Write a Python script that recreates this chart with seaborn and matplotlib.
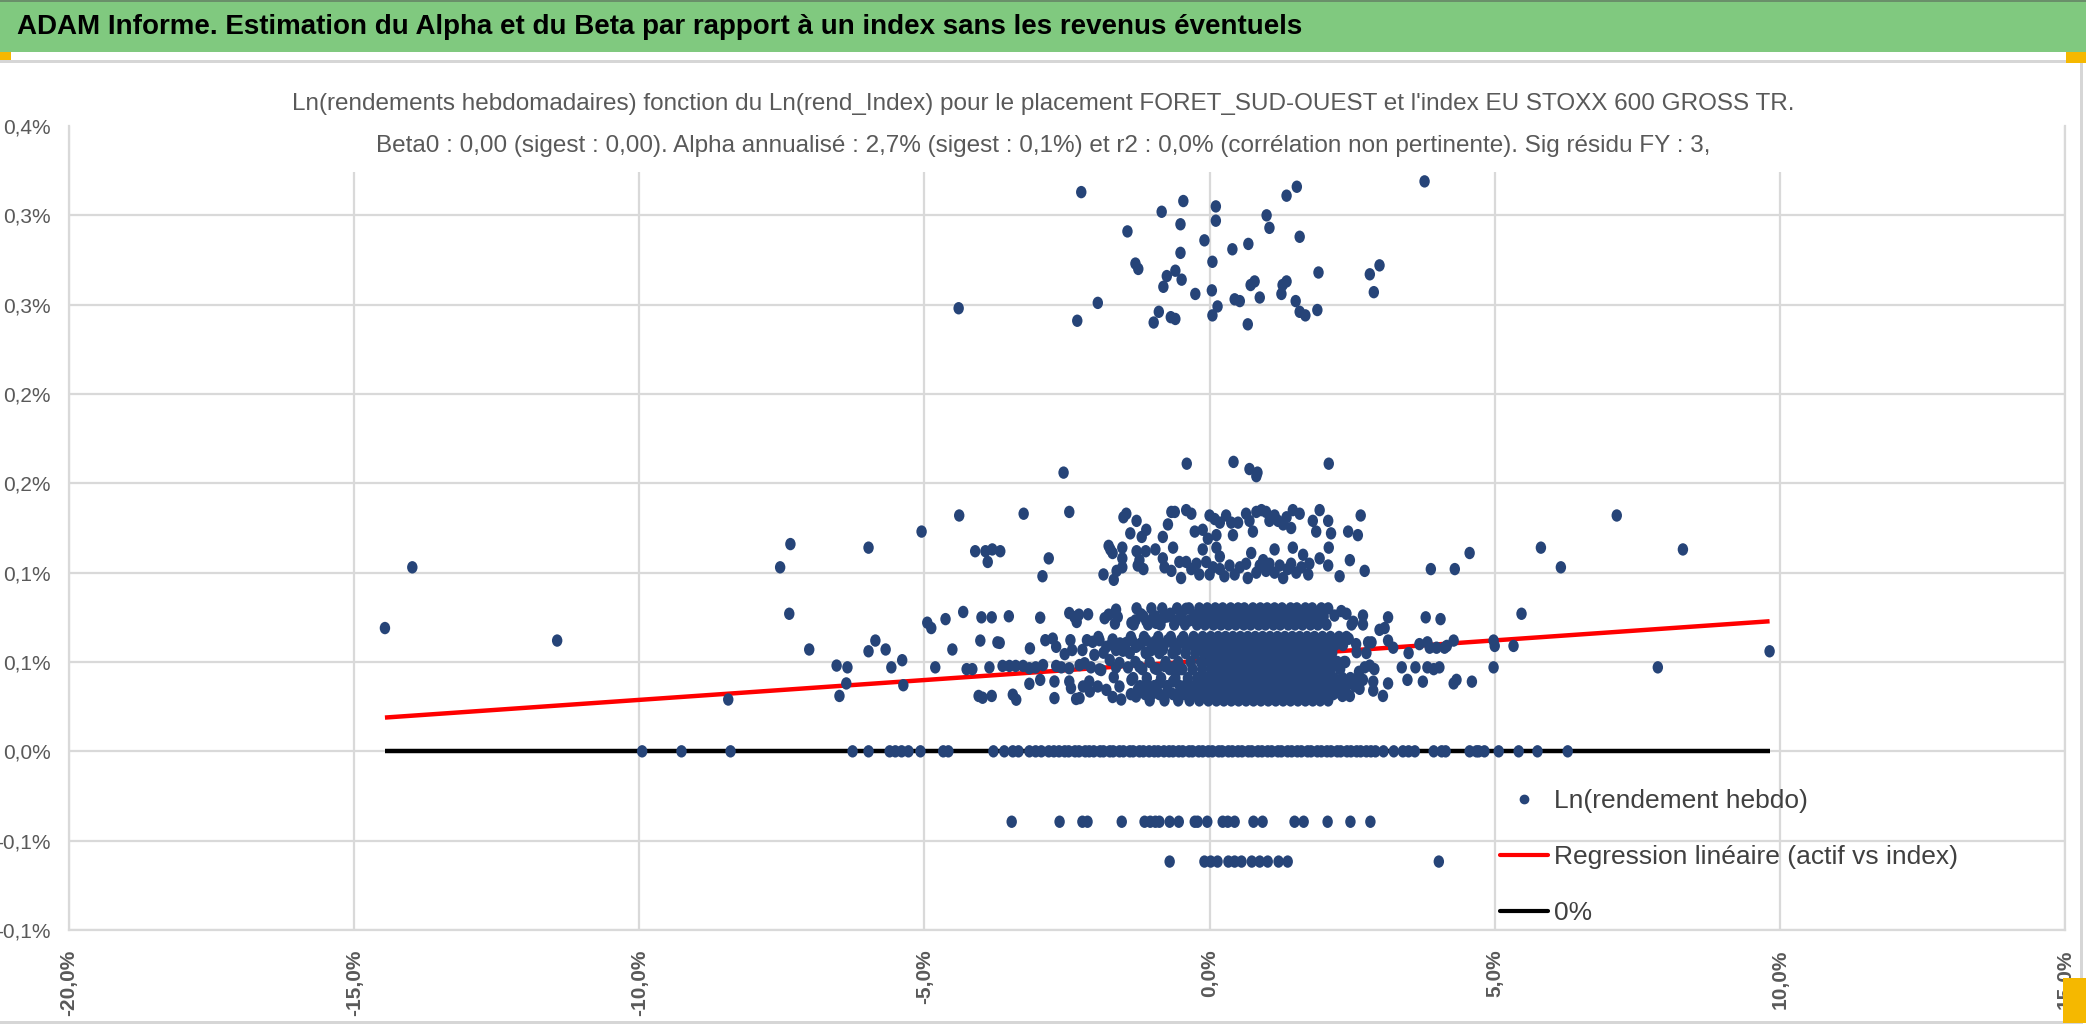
import numpy as np
import pandas as pd
import matplotlib
matplotlib.use("Agg")
import matplotlib.pyplot as plt
import seaborn as sns
from matplotlib.markers import MarkerStyle
from matplotlib.transforms import Affine2D
from matplotlib.patches import Rectangle
from matplotlib.lines import Line2D

# ---- data (x = Ln(rend_Index) in %, y = Ln(rendement hebdo) in %) ----

# top cluster (0.24% - 0.32%)
top_x = [-2.25, -0.46, -0.84, 0.11, 0.11, -0.51, -1.44, -0.09, 0.40, 0.68, -0.51, 0.05, -1.30, -1.25,
         -0.60, -0.75, -0.49, -0.81, -0.25, 0.04, 0.14, 0.05, 0.44, 0.53, 0.88, 0.72, 0.79, 1.28, 1.35,
         1.26, 1.51, 1.58, 1.68, 1.89, 1.91, 0.67, -0.89, -0.98, -0.68, -0.60, -1.96, -2.32, 1.00, 1.05,
         1.35, 1.53, 1.58, 2.81, 2.98, 2.88, 3.77, -4.40]
top_y = [0.313, 0.308, 0.302, 0.305, 0.297, 0.295, 0.291, 0.286, 0.281, 0.284, 0.279, 0.274, 0.273, 0.270,
         0.269, 0.266, 0.264, 0.260, 0.256, 0.258, 0.249, 0.244, 0.253, 0.252, 0.254, 0.261, 0.263, 0.261, 0.263,
         0.256, 0.252, 0.246, 0.244, 0.247, 0.268, 0.239, 0.246, 0.240, 0.243, 0.242, 0.251, 0.241, 0.300, 0.293,
         0.311, 0.316, 0.288, 0.267, 0.272, 0.257, 0.319, 0.248]

# upper band (0.095% - 0.165%)
up_x = [-2.56, -4.39, -3.26, -2.46, -5.05, -7.35, -7.53, -5.98, -4.11, -3.93, -3.81, -3.67, -3.89, -2.82,
        -2.93, -1.86, -1.68, -1.63, -1.51, -1.46, -1.28, -1.39, -1.19, -1.11, -1.77, -1.74, -1.70, -1.53,
        -1.53, -1.53, -1.28, -1.12, -1.23, -1.26, -1.16, -13.98,
        -0.40, 0.42, 0.70, 0.84, 0.82, 2.09,
        -0.82, -0.73, -0.67, -0.61, -0.41, -0.32, -0.26, -0.12, -0.03, 0.00, 0.09, 0.12, 0.18, 0.29, 0.38,
        0.41, 0.50, 0.64, 0.70, 0.76, 0.82, 0.91, 0.99, 1.05, 1.14, 1.20, 1.29, 1.35, 1.43, 1.46, 1.58,
        1.81, 1.87, 1.93, 2.08, 2.13, 2.43, 2.60, 2.65,
        -0.95, -0.64, -0.12, 0.12, 0.18, 0.73, 1.14, 1.46, 1.64, 2.09, 1.93, 2.46, 2.08, 2.28, 2.72,
        -0.82, -0.79, -0.67, -0.53, -0.50, -0.41, -0.32, -0.23, -0.18, -0.06, 0.00, 0.06, 0.18, 0.26,
        0.35, 0.44, 0.53, 0.64, 0.67, 0.82, 0.88, 0.94, 0.99, 1.05, 1.14, 1.23, 1.29, 1.37, 1.43, 1.52,
        1.61, 1.73, 1.75,
        3.88, 4.30, 4.56, 5.81, 6.16, 7.14, 8.30]
up_y = [0.156, 0.132, 0.133, 0.134, 0.123, 0.116, 0.103, 0.114, 0.112, 0.112, 0.113, 0.112, 0.106, 0.108,
        0.098, 0.099, 0.096, 0.101, 0.131, 0.133, 0.129, 0.122, 0.120, 0.124, 0.115, 0.113, 0.111, 0.114,
        0.108, 0.103, 0.112, 0.112, 0.107, 0.104, 0.102, 0.103,
        0.161, 0.162, 0.158, 0.156, 0.154, 0.161,
        0.120, 0.127, 0.134, 0.134, 0.135, 0.133, 0.123, 0.124, 0.119, 0.132, 0.130, 0.121, 0.128, 0.132, 0.128,
        0.121, 0.128, 0.133, 0.129, 0.123, 0.134, 0.135, 0.134, 0.129, 0.132, 0.129, 0.127, 0.131, 0.125, 0.135, 0.133,
        0.129, 0.123, 0.135, 0.129, 0.122, 0.123, 0.121, 0.132,
        0.113, 0.114, 0.113, 0.114, 0.109, 0.111, 0.113, 0.114, 0.110, 0.114, 0.108, 0.107, 0.104, 0.098, 0.101,
        0.108, 0.103, 0.101, 0.106, 0.097, 0.106, 0.102, 0.105, 0.099, 0.106, 0.099, 0.103, 0.102, 0.098,
        0.104, 0.099, 0.103, 0.105, 0.097, 0.100, 0.104, 0.107, 0.101, 0.105, 0.100, 0.104, 0.097, 0.102, 0.105, 0.100,
        0.103, 0.099, 0.105,
        0.102, 0.102, 0.111, 0.114, 0.103, 0.132, 0.113]

# core points away from the dense block (0.026% - 0.08%)
core_x = [-14.46, -11.44, -8.44, -7.37, -7.02, -6.54, -6.35, -6.37, -6.49, -5.98, -5.86, -5.68, -5.58,
          -5.39, -5.37, -4.95, -4.88, -4.81, -4.63, -4.51, -4.32, -4.26, -4.16, -4.00, -3.82, -4.02, -3.86,
          -4.05, -3.98, -3.82, -3.72,
          -3.52, -2.97, -2.46, -2.37, -2.29, -2.33, -2.13, -1.77, -1.64, -1.61, -1.37, -1.30, -1.20, -1.11,
          -0.99, -0.94, -0.79, -0.69, -0.58, -0.50, -0.41, -0.35, -0.26, -0.20,
          -3.68, -3.15, -2.88, -2.75, -2.69, -2.54, -2.44, -2.41, -2.23, -2.15, -2.05, -1.93, -1.86, -1.81,
          -1.70, -1.64, -1.57, -1.46, -1.52, -1.36, -1.29, -1.20, -1.11, -1.02, -0.96, -0.89, -0.82, -0.73,
          -0.64, -0.58, -0.50, -0.41, -0.32, -0.23,
          -3.63, -3.51, -3.40, -3.27, -3.16, -3.05, -2.92, -2.69, -2.60, -2.46, -2.28, -2.19, -2.08, -1.93,
          -1.75, -1.64, -1.43, -1.23, -0.96, -0.79, -0.64, -0.53,
          -3.45, -3.39, -3.16, -2.97, -2.72, -2.46, -2.43, -2.22, -2.11, -1.96, -1.81, -1.70, -1.58, -1.37,
          -1.26, -1.29, -1.11, -0.99, -0.88, -0.73, -0.64, -0.53, -0.41, -0.29, -0.20, -2.72, -2.34, -2.28,
          2.69, 2.69, 2.98, 3.07, 3.13, 2.78, 3.13, 3.22, 3.68, 2.75, 2.72, 2.89, 2.66, 2.87, 3.13, 2.87,
          3.04, 2.46, 2.63, 2.19, 2.40, 2.49, 2.57, 2.84, 2.81, 2.57, 2.69,
          3.79, 4.05, 5.47, 9.82, 7.86, 4.98, 5.00, 5.33, 4.98, 4.28, 3.82, 3.86, 3.98, 4.12, 4.16, 3.49,
          3.37, 3.61, 3.82, 3.93, 4.03, 3.47, 3.74, 4.28, 4.33, 4.60,
          -1.84, -1.66, -1.95, -1.72, -2.02, -1.58, -1.90, -1.68, -2.10, -1.55, 2.31, 2.52, 2.44, 2.58,
          2.36, 2.62, 2.55, 2.33]
core_y = [0.069, 0.062, 0.029, 0.077, 0.057, 0.048, 0.047, 0.038, 0.031, 0.056, 0.062, 0.057, 0.047,
          0.051, 0.037, 0.072, 0.069, 0.047, 0.074, 0.057, 0.078, 0.046, 0.046, 0.075, 0.075, 0.062, 0.047,
          0.031, 0.030, 0.031, 0.061,
          0.0756, 0.0748, 0.0774, 0.0752, 0.0765, 0.0724, 0.0767, 0.0765, 0.0793, 0.0752, 0.0719, 0.0733,
          0.0767, 0.0730, 0.0748, 0.0719, 0.0752, 0.0770, 0.0733, 0.0752, 0.0798, 0.0733, 0.0761, 0.0724,
          0.0607, 0.0576, 0.0622, 0.0631, 0.0585, 0.0544, 0.0622, 0.0567, 0.0567, 0.0622, 0.0613, 0.0622,
          0.0552, 0.0585, 0.0626, 0.0567, 0.0604, 0.0607, 0.0563, 0.0622, 0.0585, 0.0604, 0.0622, 0.0567,
          0.0613, 0.0594, 0.0570, 0.0622, 0.0604, 0.0567, 0.0622, 0.0585, 0.0613, 0.0567,
          0.0478, 0.0478, 0.0478, 0.0478, 0.0465, 0.0470, 0.0483, 0.0478, 0.0470, 0.0465, 0.0483, 0.0493,
          0.0470, 0.0459, 0.0511, 0.0470, 0.0470, 0.0474, 0.0465, 0.0478, 0.0470, 0.0459,
          0.0317, 0.0289, 0.0378, 0.0400, 0.0391, 0.0391, 0.0354, 0.0363, 0.0391, 0.0363, 0.0344, 0.0304,
          0.0363, 0.0400, 0.0344, 0.0307, 0.0372, 0.0326, 0.0381, 0.0335, 0.0391, 0.0317, 0.0372, 0.0326,
          0.0381, 0.0298, 0.0293, 0.0298,
          0.076, 0.071, 0.068, 0.069, 0.075, 0.061, 0.062, 0.058, 0.060, 0.055, 0.047, 0.046, 0.040, 0.039,
          0.038, 0.034, 0.031, 0.031, 0.035, 0.076, 0.077, 0.071, 0.060, 0.061, 0.048, 0.040, 0.040,
          0.075, 0.074, 0.077, 0.056, 0.047, 0.062, 0.059, 0.059, 0.047, 0.062, 0.061, 0.058, 0.058, 0.058,
          0.059, 0.055, 0.047, 0.047, 0.047, 0.046, 0.047, 0.040, 0.039, 0.038, 0.040, 0.039,
          0.0745, 0.0715, 0.0640, 0.0600, 0.0540, 0.0495, 0.0455, 0.0415, 0.0335, 0.0290, 0.0785, 0.0725,
          0.0630, 0.0555, 0.0500, 0.0445, 0.0365, 0.0310]

# dense block, read row by row (y level of the row, x positions in the row)
row_levels = [0.080, 0.0755, 0.071, 0.064, 0.0595, 0.055, 0.050, 0.046, 0.041, 0.0365, 0.032, 0.0285]
row_xs = [
    [-1.28, -1.02, -0.83, -0.57, -0.36, -0.18, -0.04, 0.10, 0.23, 0.37, 0.50, 0.61, 0.76, 0.89, 1.01,
     1.14, 1.27, 1.42, 1.53, 1.68, 1.80, 1.96, 2.08],
    [-1.16, -0.95, -0.74, -0.49, -0.27, -0.10, 0.04, 0.17, 0.30, 0.43, 0.56, 0.69, 0.82, 0.95, 1.08,
     1.20, 1.34, 1.47, 1.60, 1.74, 1.87, 2.00],
    [-1.33, -1.08, -0.86, -0.62, -0.43, -0.22, -0.08, 0.07, 0.20, 0.33, 0.46, 0.60, 0.72, 0.86, 0.98,
     1.12, 1.24, 1.38, 1.50, 1.63, 1.77, 1.90, 2.05],
    [-1.38, -1.15, -0.90, -0.68, -0.46, -0.28, -0.12, 0.02, 0.15, 0.28, 0.41, 0.54, 0.67, 0.80, 0.93,
     1.06, 1.19, 1.32, 1.45, 1.58, 1.71, 1.84, 1.98, 2.12, 2.27, 2.40],
    [-1.25, -1.02, -0.80, -0.58, -0.37, -0.20, -0.05, 0.09, 0.22, 0.35, 0.48, 0.60, 0.74, 0.87, 1.00,
     1.12, 1.26, 1.39, 1.51, 1.65, 1.78, 1.92, 2.05, 2.20, 2.34],
    [-1.40, -1.12, -0.88, -0.65, -0.42, -0.25, -0.09, 0.05, 0.18, 0.31, 0.44, 0.57, 0.70, 0.83, 0.96,
     1.09, 1.22, 1.35, 1.48, 1.61, 1.74, 1.88, 2.01, 2.15],
    [-1.30, -1.05, -0.77, -0.55, -0.33, -0.15, 0.00, 0.13, 0.26, 0.39, 0.52, 0.65, 0.78, 0.91, 1.04,
     1.17, 1.30, 1.43, 1.56, 1.69, 1.82, 1.95, 2.09, 2.24, 2.38],
    [-1.18, -0.92, -0.70, -0.48, -0.30, -0.13, 0.03, 0.16, 0.29, 0.42, 0.55, 0.68, 0.81, 0.94, 1.07,
     1.20, 1.33, 1.46, 1.59, 1.72, 1.85, 1.99, 2.13, 2.29],
    [-1.34, -1.10, -0.85, -0.60, -0.38, -0.21, -0.06, 0.08, 0.21, 0.34, 0.47, 0.60, 0.73, 0.86, 0.99,
     1.12, 1.25, 1.38, 1.51, 1.64, 1.77, 1.90, 2.04, 2.18, 2.33, 2.47],
    [-1.22, -0.97, -0.74, -0.52, -0.32, -0.16, 0.00, 0.14, 0.27, 0.40, 0.53, 0.66, 0.79, 0.92, 1.05,
     1.18, 1.31, 1.44, 1.57, 1.70, 1.83, 1.97, 2.11, 2.26, 2.40],
    [-1.38, -1.13, -0.88, -0.64, -0.44, -0.26, -0.10, 0.05, 0.19, 0.32, 0.45, 0.58, 0.71, 0.84, 0.97,
     1.10, 1.23, 1.36, 1.49, 1.62, 1.75, 1.89, 2.03, 2.17, 2.31],
    [-1.05, -0.79, -0.55, -0.35, -0.18, -0.02, 0.12, 0.25, 0.38, 0.51, 0.64, 0.77, 0.90, 1.03, 1.16,
     1.29, 1.42, 1.55, 1.68, 1.81, 1.94, 2.08],
]

# weeks with zero return
zero_x = [-9.95, -9.26, -8.40, -6.26, -5.98, -5.61, -5.51, -5.40, -5.28, -5.07, -4.67, -4.58, -3.79,
          -3.60, -3.45, -3.35, -3.16, -3.05, -2.95, -2.82, -2.73, -2.64, -2.54, -2.47, -2.36, -2.29, -2.18,
          -2.11, -2.03, -1.92, -1.86, -1.75, -1.69, -1.58, -1.51, -1.40, -1.34, -1.23, -1.16, -1.06, -0.97,
          -0.90, -0.80, -0.71, -0.64, -0.54, -0.47, -0.36, -0.30, -0.19, -0.12, -0.02, 0.05, 0.16, 0.22,
          0.33, 0.40, 0.50, 0.57, 0.68, 0.74, 0.85, 0.92, 1.02, 1.09, 1.20, 1.26, 1.37, 1.44, 1.54, 1.61,
          1.72, 1.78, 1.89, 1.96, 2.06, 2.13, 2.24, 2.30, 2.41, 2.48, 2.58, 2.65, 2.75, 2.83, 2.91,
          3.05, 3.23, 3.39, 3.49, 3.60, 3.93, 4.07, 4.14, 4.56, 4.68, 4.72, 4.82, 5.07, 5.42, 5.75, 6.28]

# negative weeks
neg1_x = [-3.47, -2.63, -2.23, -2.14, -1.54, -1.14, -1.04, -0.95, -0.88, -0.70, -0.54, -0.26, -0.21,
          -0.04, 0.23, 0.32, 0.44, 0.77, 0.93, 1.49, 1.65, 2.07, 2.47, 2.82]
neg1_y = -0.0394
neg2_x = [-0.70, -0.09, 0.02, 0.14, 0.33, 0.44, 0.56, 0.74, 0.88, 1.02, 1.21, 1.37, 4.02]
neg2_y = -0.0617

# regression line (beta, weekly alpha) and the span of the two lines
beta = 0.00222
alpha_w = 0.051
line_x = [-14.46, 9.82]

x_ticks = [-20, -15, -10, -5, 0, 5, 10, 15]
x_tick_labels = ['-20,0%', '-15,0%', '-10,0%', '-5,0%', '0,0%', '5,0%', '10,0%', '15,0%']
y_ticks = [-0.1, -0.05, 0.0, 0.05, 0.1, 0.15, 0.2, 0.25, 0.3, 0.35]
y_tick_labels = ['-0,1%', '-0,1%', '0,0%', '0,1%', '0,1%', '0,2%', '0,2%', '0,3%', '0,3%', '0,4%']

title = "ADAM Informe. Estimation du Alpha et du Beta par rapport à un index sans les revenus éventuels"
sub1 = ("Ln(rendements hebdomadaires) fonction du Ln(rend_Index) pour le placement FORET_SUD-OUEST "
        "et l'index EU STOXX 600 GROSS TR.")
sub2 = ("Beta0 : 0,00 (sigest : 0,00). Alpha annualisé : 2,7% (sigest : 0,1%) et r2 : 0,0% "
        "(corrélation non pertinente). Sig résidu FY : 3,")

# ---- build the point table ----
dense_x = [x for xs in row_xs for x in xs]
dense_y = [lv for lv, xs in zip(row_levels, row_xs) for _ in xs]
pts = pd.DataFrame({
    'index': top_x + up_x + core_x + dense_x + zero_x + neg1_x + neg2_x,
    'actif': top_y + up_y + core_y + dense_y + [0.0] * len(zero_x)
             + [neg1_y] * len(neg1_x) + [neg2_y] * len(neg2_x),
})

sns.set_theme(style="white")
plt.rcParams['font.family'] = ['Liberation Sans', 'DejaVu Sans']

W, H = 2086, 1035
fig = plt.figure(figsize=(W / 100, H / 100), dpi=100)
ax = fig.add_axes([69 / W, 1 - 930 / H, (2065 - 69) / W, (930 - 126) / H])

navy = '#264478'
grid_c = '#d9d9d9'

reg_y = alpha_w + beta * np.array(line_x)
ax.plot(line_x, reg_y, color='#ff0000', lw=3.2, zorder=2, solid_capstyle='butt')
ax.plot(line_x, [0, 0], color='black', lw=3.2, zorder=2, solid_capstyle='butt')

ell = MarkerStyle('o', transform=Affine2D().scale(0.84, 1.0))
sns.scatterplot(data=pts, x='index', y='actif', ax=ax, color=navy, s=80, marker=ell,
                linewidth=0, edgecolor='none', zorder=3, legend=False)

ax.set_xlim(-20, 15)
ax.set_ylim(-0.1, 0.35)
ax.set_xticks(x_ticks)
ax.set_xticklabels(x_tick_labels, rotation=90, fontsize=15, fontweight='bold', color='#595959')
ax.set_yticks(y_ticks)
ax.set_yticklabels(y_tick_labels, fontsize=15, color='#595959')
ax.tick_params(axis='x', length=0, pad=14)
ax.tick_params(axis='y', length=0, pad=13)
ax.set_xlabel('')
ax.set_ylabel('')
ax.grid(True, color=grid_c, lw=1.6)
ax.set_axisbelow(True)
ax.yaxis.get_gridlines()[-1].set_visible(False)
for name, sp in ax.spines.items():
    sp.set_color(grid_c)
    sp.set_linewidth(1.6)
ax.spines['top'].set_visible(False)

handles = [
    Line2D([], [], ls='none', marker='o', markersize=6, color=navy),
    Line2D([], [], color='#ff0000', lw=3),
    Line2D([], [], color='black', lw=3),
]
labels = ['Ln(rendement hebdo)', 'Regression linéaire (actif vs index)', '0%']
ax.legend(handles, labels, loc='upper left', bbox_to_anchor=(1500 / W, 1 - 789 / H),
          bbox_transform=fig.transFigure, frameon=False, fontsize=19, labelcolor='#404040',
          handlelength=1.8, handletextpad=0.25, labelspacing=1.22, borderpad=0, borderaxespad=0)

# header band and chart frame
fig.add_artist(Rectangle((0, 1 - 52 / H), 1, 52 / H, transform=fig.transFigure,
                         facecolor='#80c97f', edgecolor='none', zorder=1))
fig.add_artist(Rectangle((0, 1 - 2 / H), 1, 2 / H, transform=fig.transFigure,
                         facecolor='#6a8f6a', edgecolor='none', zorder=1))
fig.add_artist(Rectangle((0, 1 - 63 / H), 2070 / W, 3 / H, transform=fig.transFigure,
                         facecolor='#d6d6d6', edgecolor='none', zorder=1))
fig.add_artist(Rectangle((0, 1 - 60 / H), 11 / W, 8 / H, transform=fig.transFigure,
                         facecolor='#f5b800', edgecolor='none', zorder=1))
fig.add_artist(Rectangle((2066 / W, 1 - 63 / H), 20 / W, 11 / H, transform=fig.transFigure,
                         facecolor='#f5b800', edgecolor='none', zorder=1))
fig.add_artist(Rectangle((2080 / W, 1 - 1022 / H), 3 / W, 959 / H, transform=fig.transFigure,
                         facecolor='#d6d6d6', edgecolor='none', zorder=1))
fig.add_artist(Rectangle((0, 1 - 1024 / H), 2083 / W, 3 / H, transform=fig.transFigure,
                         facecolor='#d6d6d6', edgecolor='none', zorder=1))
fig.add_artist(Rectangle((2063 / W, 1 - 1023 / H), 23 / W, 45 / H, transform=fig.transFigure,
                         facecolor='#f5b800', edgecolor='none', zorder=1))

# white box behind the chart title (hides the top of the plot area)
fig.add_artist(Rectangle((280 / W, 1 - 172 / H), 1530 / W, 106 / H, transform=fig.transFigure,
                         facecolor='white', edgecolor='none', zorder=1))

fig.text(17 / W, 1 - 27 / H, title, fontsize=20, fontweight='bold', color='black',
         ha='left', va='center', zorder=4)
fig.text(0.5, 1 - 104 / H, sub1, fontsize=17.5, color='#595959', ha='center', va='center', zorder=4)
fig.text(0.5, 1 - 146 / H, sub2, fontsize=17.5, color='#595959', ha='center', va='center', zorder=4)

fig.savefig('out.png', dpi=100, facecolor='white')
